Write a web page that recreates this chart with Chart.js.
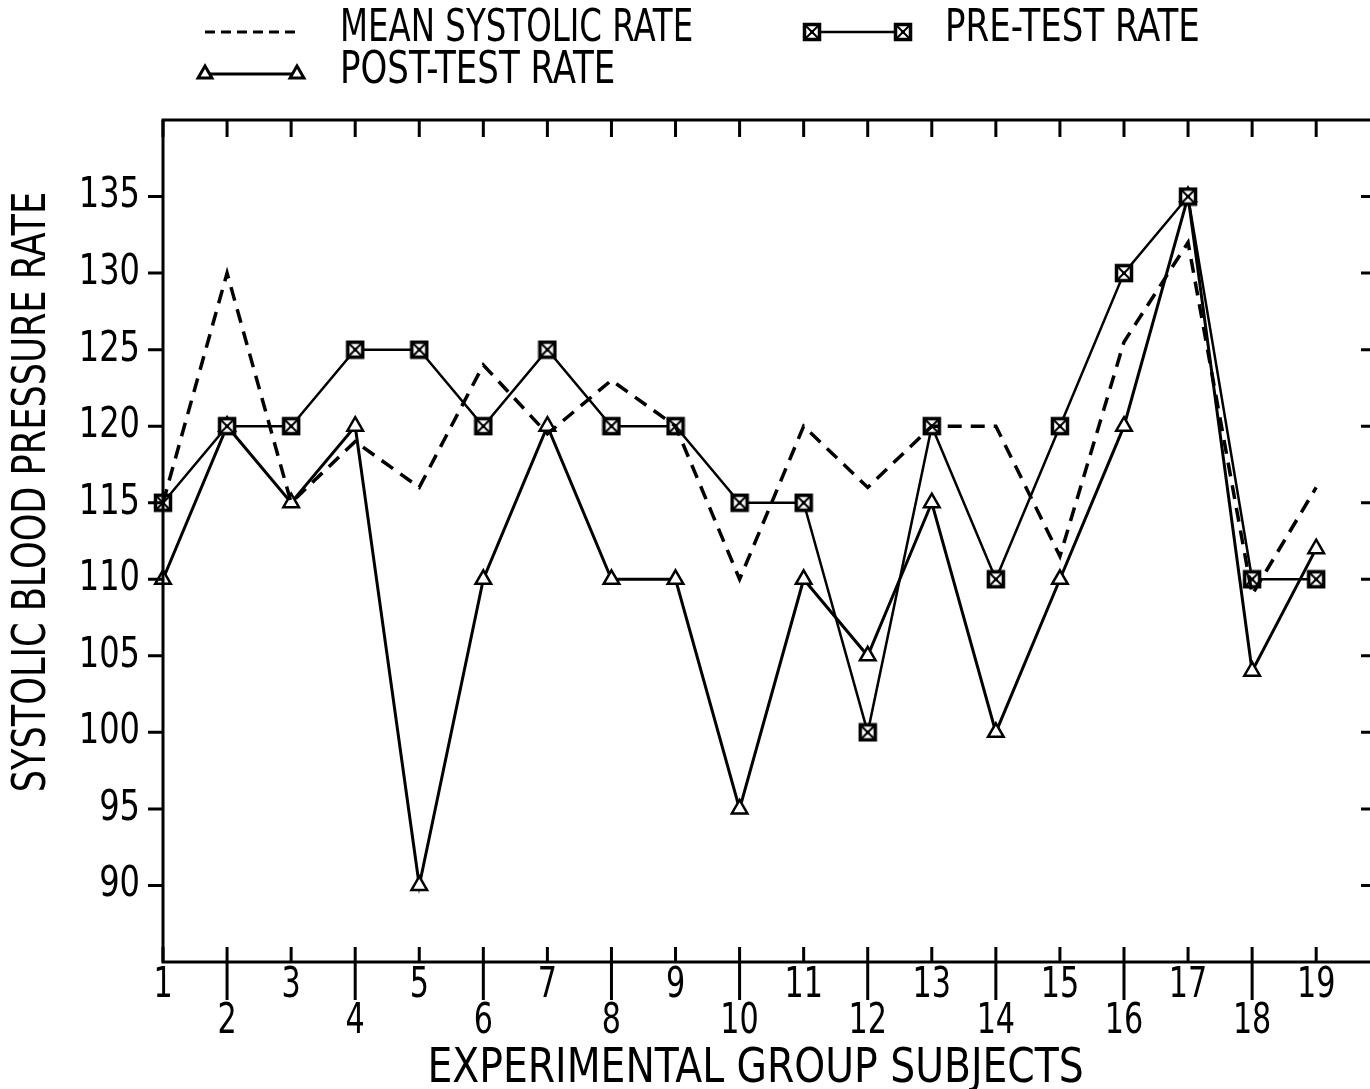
<!DOCTYPE html>
<html>
<head>
<meta charset="utf-8">
<script src="https://cdn.jsdelivr.net/npm/chart.js@4.4.1/dist/chart.umd.min.js"></script>
<style>
html, body { margin: 0; padding: 0; background: #fff; }
canvas { display: block; }
</style>
</head>
<body>
<canvas id="chart" width="1370" height="1089"></canvas>
<script>
// data
var subjects = [1, 2, 3, 4, 5, 6, 7, 8, 9, 10, 11, 12, 13, 14, 15, 16, 17, 18, 19];
var meanRate = [115, 130, 115, 119, 116, 124, 119.5, 123, 120, 110, 120, 116, 120, 120, 111.5, 125.5, 132, 109, 116];
var preTest  = [115, 120, 120, 125, 125, 120, 125, 120, 120, 115, 115, 100, 120, 110, 120, 130, 135, 110, 110];
var postTest = [110, 120, 115, 120, 90, 110, 120, 110, 110, 95, 110, 105, 115, 100, 110, 120, 135, 104, 112];
var yTicks = [90, 95, 100, 105, 110, 115, 120, 125, 130, 135];
var seriesNames = ['MEAN SYSTOLIC RATE', 'PRE-TEST RATE', 'POST-TEST RATE'];
var xTitle = 'EXPERIMENTAL GROUP SUBJECTS';
var yTitle = 'SYSTOLIC BLOOD PRESSURE RATE';

var FONT = '"DejaVu Sans Condensed", "Liberation Sans Narrow", "DejaVu Sans", sans-serif';

// boxed square marker
function makeBox() {
    var c = document.createElement('canvas');
    c.width = 20; c.height = 20;
    var g = c.getContext('2d');
    g.fillStyle = '#fff';
    g.fillRect(2, 2, 16, 16);
    g.strokeStyle = '#000';
    g.lineWidth = 3.5;
    g.strokeRect(2.5, 2.5, 15, 15);
    g.lineWidth = 2;
    g.beginPath();
    g.moveTo(4, 4); g.lineTo(16, 16);
    g.moveTo(16, 4); g.lineTo(4, 16);
    g.stroke();
    g.fillStyle = '#000';
    g.fillRect(8, 8, 4, 4);
    return c;
}
var boxMarker = makeBox();

function pts(arr) {
    return arr.map(function (v, i) { return { x: subjects[i], y: v }; });
}

function text(ctx, s, x, y, align, size, squeeze) {
    ctx.save();
    ctx.font = size + 'px ' + FONT;
    ctx.textBaseline = 'middle';
    var w = ctx.measureText(s).width * squeeze;
    var x0 = align === 'center' ? x - w / 2 : (align === 'right' ? x - w : x);
    ctx.translate(x0, y);
    ctx.scale(squeeze, 1);
    ctx.textAlign = 'left';
    ctx.fillText(s, 0, 0);
    ctx.restore();
}

var frame = {
    id: 'frame',
    afterDraw: function (chart) {
        var ctx = chart.ctx, a = chart.chartArea;
        var xs = chart.scales.x, ys = chart.scales.y;
        ctx.save();
        ctx.strokeStyle = '#000';
        ctx.fillStyle = '#000';
        ctx.lineWidth = 3;
        // the right side of the frame falls just off the page
        ctx.beginPath();
        ctx.moveTo(a.right, a.bottom); ctx.lineTo(a.left, a.bottom);
        ctx.lineTo(a.left, a.top); ctx.lineTo(a.right, a.top);
        ctx.stroke();

        // x ticks, top and bottom, two rows of labels
        subjects.forEach(function (s) {
            var px = xs.getPixelForValue(s);
            ctx.beginPath();
            ctx.moveTo(px, a.top); ctx.lineTo(px, a.top + 17);
            ctx.moveTo(px, a.bottom - 15);
            ctx.lineTo(px, a.bottom + (s % 2 === 0 ? 38 : 0));
            ctx.stroke();
            text(ctx, String(s), px, s % 2 === 0 ? a.bottom + 60 : a.bottom + 24, 'center', 42, 0.8);
        });

        // y ticks, outside on the left, inside on the right
        yTicks.forEach(function (v) {
            var py = ys.getPixelForValue(v);
            ctx.beginPath();
            ctx.moveTo(a.left - 15, py); ctx.lineTo(a.left, py);
            ctx.moveTo(a.right - 9, py); ctx.lineTo(a.right, py);
            ctx.stroke();
            text(ctx, String(v), a.left - 23, py, 'right', 42, 0.85);
        });

        text(ctx, xTitle, xs.getPixelForValue(10.25), a.bottom + 108, 'center', 48, 0.91);
        ctx.save();
        ctx.translate(33, ys.getPixelForValue(115.7));
        ctx.rotate(-Math.PI / 2);
        text(ctx, yTitle, 0, 0, 'center', 46, 0.85);
        ctx.restore();

        // legend
        var ds = chart.data.datasets;
        ctx.lineWidth = 3;
        ctx.setLineDash([10, 6]);
        ctx.beginPath(); ctx.moveTo(205, 32); ctx.lineTo(297, 32); ctx.stroke();
        ctx.setLineDash([]);
        text(ctx, seriesNames[0], 340, 30, 'left', 44, 0.82);

        ctx.lineWidth = ds[1].borderWidth;
        ctx.beginPath(); ctx.moveTo(812, 32); ctx.lineTo(903, 32); ctx.stroke();
        ctx.drawImage(boxMarker, 812 - 10, 32 - 10);
        ctx.drawImage(boxMarker, 903 - 10, 32 - 10);
        text(ctx, seriesNames[1], 945, 30, 'left', 44, 0.86);

        ctx.lineWidth = ds[2].borderWidth;
        ctx.beginPath(); ctx.moveTo(205, 74); ctx.lineTo(297, 74); ctx.stroke();
        var tri = { pointStyle: 'triangle', radius: 8, borderWidth: 2.5 };
        ctx.fillStyle = '#fff';
        Chart.helpers.drawPoint(ctx, tri, 205, 74);
        Chart.helpers.drawPoint(ctx, tri, 297, 74);
        ctx.fillStyle = '#000';
        text(ctx, seriesNames[2], 340, 72, 'left', 44, 0.86);
        ctx.restore();
    }
};

var ctx = document.getElementById('chart').getContext('2d');
new Chart(ctx, {
    type: 'line',
    data: {
        datasets: [
            {
                label: seriesNames[0],
                data: pts(meanRate),
                borderColor: '#000',
                borderWidth: 3.5,
                borderDash: [14, 9],
                pointRadius: 0,
                clip: false
            },
            {
                label: seriesNames[1],
                data: pts(preTest),
                borderColor: '#000',
                borderWidth: 2.5,
                pointStyle: boxMarker,
                pointRadius: 10,
                clip: false
            },
            {
                label: seriesNames[2],
                data: pts(postTest),
                borderColor: '#000',
                backgroundColor: '#fff',
                borderWidth: 3,
                pointStyle: 'triangle',
                pointRadius: 9,
                pointBorderWidth: 2.5,
                clip: false
            }
        ]
    },
    options: {
        responsive: false,
        animation: false,
        devicePixelRatio: 1,
        layout: { autoPadding: false, padding: { left: 163, top: 120, right: 0, bottom: 127 } },
        plugins: { legend: { display: false }, tooltip: { enabled: false } },
        elements: { line: { tension: 0 } },
        scales: {
            x: { type: 'linear', min: 1, max: 19.84, display: false },
            y: { min: 85, max: 140, display: false }
        }
    },
    plugins: [frame]
});
</script>
</body>
</html>
